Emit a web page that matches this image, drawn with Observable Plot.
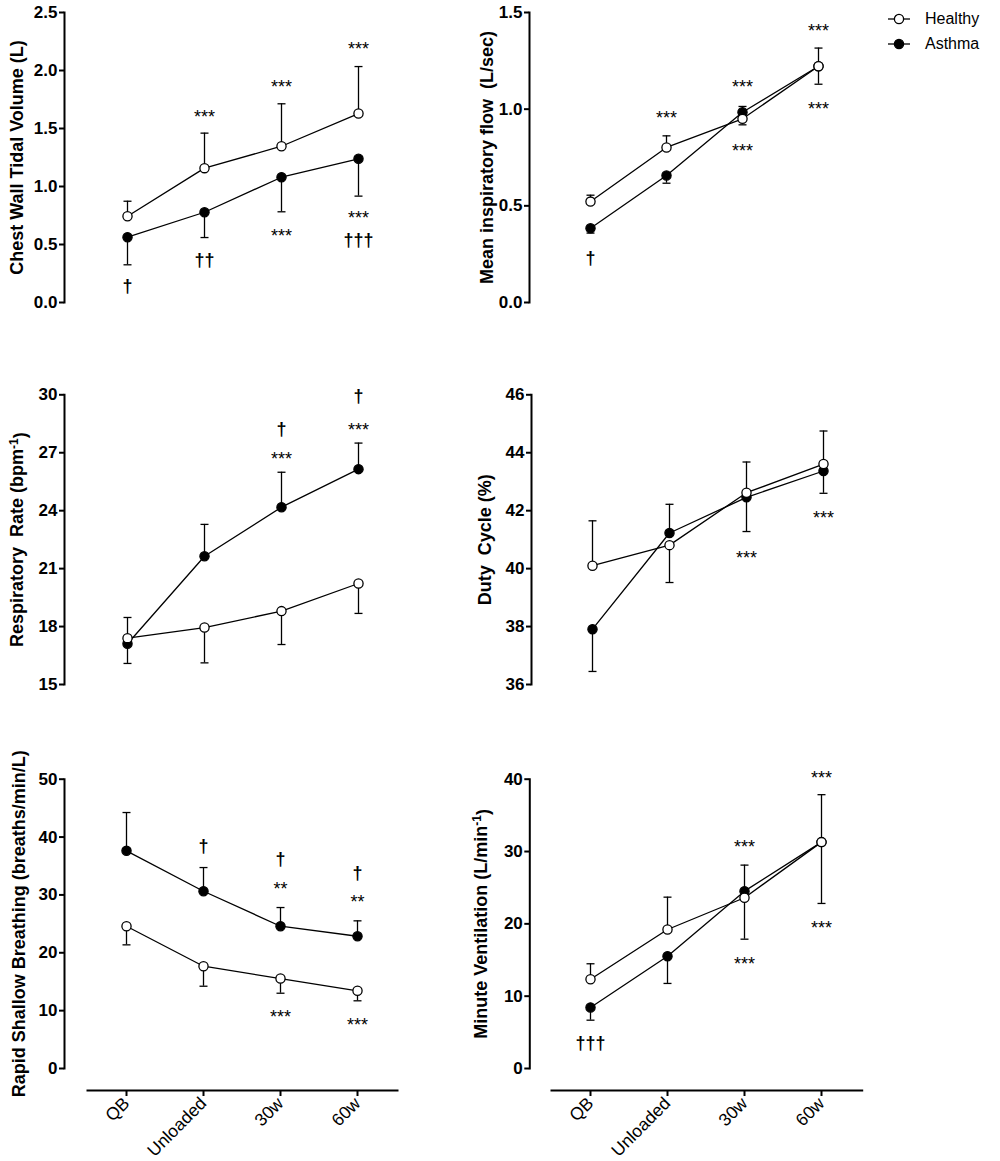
<!DOCTYPE html>
<html><head><meta charset="utf-8">
<script src="https://cdn.jsdelivr.net/npm/d3@7"></script>
<script src="https://cdn.jsdelivr.net/npm/@observablehq/plot@0.6"></script>
<style>
body{margin:0;background:#fff;}
#root{position:relative;width:1000px;height:1161px;font-family:"Liberation Sans",Arial,sans-serif;}
.panel{position:absolute;}
svg text{white-space:pre;}
#legend{position:absolute;left:884px;top:6px;font-size:16px;color:#000;}
#legend div{display:flex;align-items:center;height:25px;}
#legend svg{margin-right:11px;}
</style></head><body><div id="root"><div id="legend"></div></div>
<script>
const stages = ["QB", "Unloaded", "30w", "60w"];

// Chest wall tidal volume (L)
const cwvtHealthy = [0.744, 1.158, 1.347, 1.629];
const cwvtHealthyErr = [0.873, 1.46, 1.713, 2.034];
const cwvtAsthma = [0.563, 0.778, 1.08, 1.239];
const cwvtAsthmaErr = [0.325, 0.56, 0.782, 0.917];
const cwvtTicks = [0, 0.5, 1.0, 1.5, 2.0, 2.5];
const cwvtNotes = [["Unloaded", 1.638, "***"], ["30w", 1.897, "***"], ["60w", 2.224, "***"], ["30w", 0.612, "***"], ["60w", 0.765, "***"], ["60w", 0.54, "†††"], ["Unloaded", 0.362, "††"], ["QB", 0.138, "†"]];

// Mean inspiratory flow (L/sec)
const mifHealthy = [0.522, 0.802, 0.950, 1.222];
const mifHealthyErr = [0.555, 0.862, 0.919, 1.316];
const mifAsthma = [0.384, 0.657, 0.984, 1.222];
const mifAsthmaErr = [0.359, 0.617, 1.014, 1.129];
const mifTicks = [0, 0.5, 1.0, 1.5];
const mifNotes = [["Unloaded", 0.976, "***"], ["30w", 1.137, "***"], ["60w", 1.430, "***"], ["30w", 0.807, "***"], ["60w", 1.023, "***"], ["QB", 0.231, "†"]];

// Respiratory rate (bpm-1)
const rrHealthy = [17.40, 17.95, 18.80, 20.23];
const rrHealthyErr = [18.47, 16.12, 17.07, 18.68];
const rrAsthma = [17.11, 21.64, 24.18, 26.15];
const rrAsthmaErr = [16.09, 23.29, 25.99, 27.50];
const rrTicks = [15, 18, 21, 24, 27, 30];
const rrNotes = [["30w", 28.21, "†"], ["30w", 26.90, "***"], ["60w", 29.93, "†"], ["60w", 28.42, "***"]];

// Duty cycle (%)
const dcHealthy = [40.10, 40.81, 42.62, 43.61];
const dcHealthyErr = [41.65, 39.52, 43.68, 44.75];
const dcAsthma = [37.91, 41.23, 42.46, 43.37];
const dcAsthmaErr = [36.45, 42.22, 41.28, 42.60];
const dcTicks = [36, 38, 40, 42, 44, 46];
const dcNotes = [["30w", 40.54, "***"], ["60w", 41.90, "***"]];

// Rapid shallow breathing (breaths/min/L)
const rsbHealthy = [24.59, 17.68, 15.55, 13.43];
const rsbHealthyErr = [21.37, 14.22, 13.01, 11.70];
const rsbAsthma = [37.62, 30.64, 24.59, 22.86];
const rsbAsthmaErr = [44.24, 34.73, 27.82, 25.52];
const rsbTicks = [0, 10, 20, 30, 40, 50];
const rsbNotes = [["Unloaded", 38.41, "†"], ["30w", 36.24, "†"], ["30w", 31.80, "**"], ["60w", 33.82, "†"], ["60w", 29.50, "**"], ["30w", 9.73, "***"], ["60w", 8.24, "***"]];

// Minute ventilation (L/min-1)
const veHealthy = [12.35, 19.22, 23.61, 31.30];
const veHealthyErr = [14.48, 23.69, 17.88, 37.86];
const veAsthma = [8.44, 15.53, 24.52, 31.30];
const veAsthmaErr = [6.68, 11.76, 28.12, 22.82];
const veTicks = [0, 10, 20, 30, 40];
const veNotes = [["60w", 40.8, "***"], ["30w", 31.30, "***"], ["30w", 15.08, "***"], ["60w", 20.06, "***"], ["QB", 3.50, "†††"]];

const seriesNames = ["Healthy", "Asthma"];

const cap = {draw(ctx) { ctx.moveTo(-4, 0); ctx.lineTo(4, 0); }};

function rows(v, e) { return stages.map((s, i) => ({s, v: v[i], e: e[i]})); }

function seriesMarks(D, fill) {
  return [
    Plot.line(D, {x: "s", y: "v", stroke: "black", strokeWidth: 1.3}),
    Plot.ruleX(D, {x: "s", y1: "v", y2: "e", stroke: "black", strokeWidth: 1.3}),
    Plot.dot(D, {x: "s", y: "e", symbol: cap, r: 3, stroke: "black", strokeWidth: 1.3, fill: "none"}),
    Plot.dot(D, {x: "s", y: "v", r: 4.6, fill, stroke: "black", strokeWidth: 1.3})
  ];
}

function panel(c) {
  const marks = [
    Plot.frame({anchor: "left", stroke: "black", strokeWidth: 2}),
    Plot.axisY({ticks: c.ticks, tickFormat: c.fmt, tickSize: 5, tickPadding: 2, fontSize: 17, fontWeight: "bold", label: null, strokeWidth: 2}),
    Plot.text([c.label], {frameAnchor: "left", rotate: -90, dx: c.labelDx, fontSize: 18, fontWeight: "bold", lineAnchor: "middle", textAnchor: "middle", text: d => d}),
    ...seriesMarks(rows(c.a, c.ae), "black"),
    ...seriesMarks(rows(c.h, c.he), "white"),
    Plot.text(c.notes.filter(d => d[2].includes("*")), {x: d => d[0], y: d => d[1], text: d => d[2], fontSize: 18, dy: 4.8, lineAnchor: "middle"}),
    Plot.text(c.notes.filter(d => d[2].includes("†")), {x: d => d[0], y: d => d[1], text: d => d[2], fontSize: 18, fontWeight: "bold", lineAnchor: "middle"})
  ];
  if (c.xaxis) {
    marks.push(Plot.frame({anchor: "bottom", dy: 22, insetLeft: c.insetL, insetRight: c.insetR, stroke: "black", strokeWidth: 2}));
    marks.push(Plot.axisX({anchor: "bottom", dy: 22, tickRotate: -45, tickSize: 6, tickPadding: 4, fontSize: 17.5, label: null, strokeWidth: 2}));
  }
  const chart = Plot.plot({
    width: c.w, height: c.ht,
    marginLeft: c.mL, marginTop: c.mT, marginBottom: c.mB, marginRight: 0,
    style: {fontFamily: "'Liberation Sans', Arial, sans-serif", overflow: "visible", background: "transparent"},
    x: {type: "point", domain: stages, range: c.xr, padding: 0, axis: c.xaxis ? undefined : null},
    y: {domain: c.domain},
    marks
  });
  chart.classList.add("panel");
  chart.style.left = c.left + "px";
  chart.style.top = c.top + "px";
  if (c.sup) {
    d3.select(chart).selectAll("text").filter(function() { return this.textContent === c.label; }).each(function() {
      const t = d3.select(this);
      t.text(null);
      t.append("tspan").text(c.sup[0]);
      t.append("tspan").attr("dy", "-0.45em").attr("font-size", "12px").text(c.sup[1]);
      t.append("tspan").attr("dy", "0.45em").text(c.sup[2]);
    });
  }
  document.getElementById("root").appendChild(chart);
}

const f1 = d3.format(".1f"), f0 = d3.format("d");

panel({left: 0, top: 0, w: 470, ht: 330, mL: 64, mT: 12, mB: 28, xr: [126, 358], domain: [0, 2.5], ticks: cwvtTicks, fmt: f1,
  label: "Chest Wall Tidal Volume (L)", labelDx: -47, h: cwvtHealthy, he: cwvtHealthyErr, a: cwvtAsthma, ae: cwvtAsthmaErr, notes: cwvtNotes});
panel({left: 470, top: 0, w: 530, ht: 330, mL: 59, mT: 12, mB: 28, xr: [119, 348], domain: [0, 1.5], ticks: mifTicks, fmt: f1,
  label: "Mean inspiratory flow  (L/sec)", labelDx: -42, h: mifHealthy, he: mifHealthyErr, a: mifAsthma, ae: mifAsthmaErr, notes: mifNotes});
panel({left: 0, top: 370, w: 470, ht: 340, mL: 64, mT: 24.3, mB: 26, xr: [126, 358], domain: [15, 30], ticks: rrTicks, fmt: f0,
  label: "Respiratory  Rate (bpm-1)", sup: ["Respiratory  Rate (bpm", "-1", ")"], labelDx: -47, h: rrHealthy, he: rrHealthyErr, a: rrAsthma, ae: rrAsthmaErr, notes: rrNotes});
panel({left: 470, top: 370, w: 530, ht: 340, mL: 61, mT: 24.3, mB: 26, xr: [121, 353], domain: [36, 46], ticks: dcTicks, fmt: f0,
  label: "Duty  Cycle (%)", labelDx: -46, h: dcHealthy, he: dcHealthyErr, a: dcAsthma, ae: dcAsthmaErr, notes: dcNotes});
panel({left: 0, top: 750, w: 470, ht: 411, mL: 64, mT: 28.7, mB: 93, xr: [125, 357], domain: [0, 50], ticks: rsbTicks, fmt: f0,
  label: "Rapid Shallow Breathing (breaths/min/L)", labelDx: -45, h: rsbHealthy, he: rsbHealthyErr, a: rsbAsthma, ae: rsbAsthmaErr, notes: rsbNotes,
  xaxis: true, insetL: 23, insetR: 73});
panel({left: 470, top: 750, w: 530, ht: 411, mL: 59.3, mT: 28.7, mB: 93, xr: [120, 351.7], domain: [0, 40], ticks: veTicks, fmt: f0,
  label: "Minute Ventilation (L/min-1)", sup: ["Minute Ventilation (L/min", "-1", ")"], labelDx: -49, h: veHealthy, he: veHealthyErr, a: veAsthma, ae: veAsthmaErr, notes: veNotes,
  xaxis: true, insetL: 21.7, insetR: 138.3});

// legend
const legend = d3.select("#legend");
seriesNames.forEach((name, i) => {
  const row = legend.append("div");
  const s = row.append("svg").attr("width", 30).attr("height", 14);
  s.append("line").attr("x1", 4).attr("x2", 26).attr("y1", 7).attr("y2", 7).attr("stroke", "black").attr("stroke-width", 1.3);
  s.append("circle").attr("cx", 15).attr("cy", 7).attr("r", 4.6).attr("fill", i === 0 ? "white" : "black").attr("stroke", "black").attr("stroke-width", 1.3);
  row.append("span").text(name);
});
</script>
</body></html>
